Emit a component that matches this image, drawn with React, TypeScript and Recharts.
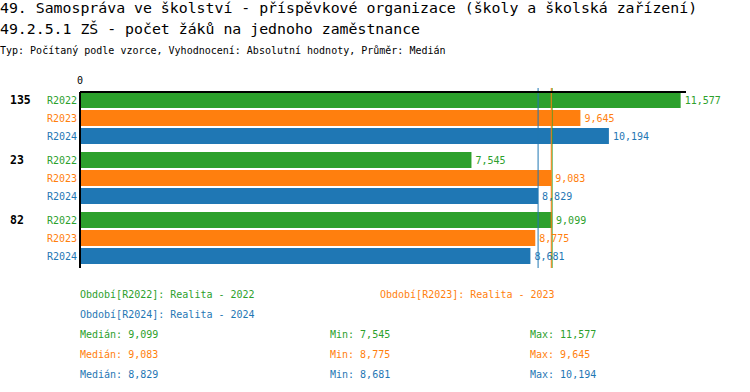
import React from 'react';
import { BarChart, Bar, XAxis, YAxis, ReferenceLine, LabelList } from 'recharts';

const groups = ['135', '23', '82'];
const periods = ['R2022', 'R2023', 'R2024'];
const r2022 = [11577, 7545, 9099];
const r2023 = [9645, 9083, 8775];
const r2024 = [10194, 8829, 8681];
const medians = [9099, 9083, 8829];
const mins = [7545, 8775, 8681];
const maxs = [11577, 9645, 10194];
const legendLabels = ['Období[R2022]: Realita - 2022', 'Období[R2023]: Realita - 2023', 'Období[R2024]: Realita - 2024'];
const title1 = '49. Samospráva ve školství - příspěvkové organizace (školy a školská zařízení)';
const title2 = '49.2.5.1 ZŠ - počet žáků na jednoho zaměstnance';
const subtitle = 'Typ: Počítaný podle vzorce, Vyhodnocení: Absolutní hodnoty, Průměr: Medián';

const COLORS = ['#2ca02c', '#ff7f0e', '#1f77b4'];
const FONT = '"DejaVu Sans Mono", monospace';
const keys = ['r2022', 'r2023', 'r2024'];

const data = groups.map((g, i) => ({ group: g, r2022: r2022[i], r2023: r2023[i], r2024: r2024[i] }));

const fmt = (v: number) => v.toLocaleString('en-US');

const YTick = (props: any) => {
  const { x, y, payload } = props;
  return (
    <g>
      <text x={x - 67} y={y - 18} dy="0.35em" fontSize={11.5} fontWeight="bold" fontFamily={FONT} fill="#000">
        {payload.value}
      </text>
      {periods.map((p, i) => (
        <text key={p} x={x} y={y + (i - 1) * 18} dy="0.35em" textAnchor="end" fontSize={10} fontFamily={FONT} fill={COLORS[i]}>
          {p}
        </text>
      ))}
    </g>
  );
};

const XTick = (props: any) => {
  const { x, y, payload } = props;
  return (
    <text x={x} y={y} textAnchor="middle" fontSize={10} fontFamily={FONT} fill="#000">
      {payload.value}
    </text>
  );
};

export default function App() {
  return (
    <div style={{ position: 'absolute', left: 0, top: 0, width: 750, height: 392, background: '#fff' }}>
      <BarChart
        width={750}
        height={392}
        data={data}
        layout="vertical"
        margin={{ top: 68, right: 64, bottom: 124, left: 0 }}
        barSize={16}
        barGap={2}
      >
        <XAxis
          type="number"
          orientation="top"
          domain={[0, 11680]}
          ticks={[0]}
          tickLine={false}
          tickSize={0}
          tickMargin={4}
          tick={<XTick />}
          axisLine={{ stroke: '#000', strokeWidth: 2, transform: 'translate(0,4)' }}
          height={20}
        />
        <YAxis
          type="category"
          dataKey="group"
          width={80}
          tickLine={false}
          tickSize={0}
          tickMargin={3}
          tick={<YTick />}
          axisLine={{ stroke: '#000', strokeWidth: 2, strokeDasharray: '0 4 1000' }}
        />
        {keys.map((k, i) => (
          <Bar key={k} dataKey={k} fill={COLORS[i]} isAnimationActive={false}>
            <LabelList
              dataKey={k}
              position="right"
              offset={4}
              formatter={(v: any) => fmt(Number(v))}
              fill={COLORS[i]}
              fontSize={10}
              fontFamily={FONT}
            />
          </Bar>
        ))}
        <ReferenceLine x={medians[2]} stroke={COLORS[2]} strokeWidth={1} />
        <ReferenceLine x={medians[0]} stroke={COLORS[0]} strokeWidth={1} />
        <ReferenceLine x={medians[1]} stroke={COLORS[1]} strokeWidth={1} />
      </BarChart>
      <svg width={750} height={392} style={{ position: 'absolute', left: 0, top: 0, pointerEvents: 'none' }}>
        <text x={0} y={12.5} fontSize={14.85} fontFamily={FONT} fill="#000">{title1}</text>
        <text x={0} y={34} fontSize={14.85} fontFamily={FONT} fill="#000">{title2}</text>
        <text x={0} y={54} fontSize={10} fontFamily={FONT} fill="#000">{subtitle}</text>
        <text x={80} y={298} fontSize={10} fontFamily={FONT} fill={COLORS[0]}>{legendLabels[0]}</text>
        <text x={380} y={298} fontSize={10} fontFamily={FONT} fill={COLORS[1]}>{legendLabels[1]}</text>
        <text x={80} y={318} fontSize={10} fontFamily={FONT} fill={COLORS[2]}>{legendLabels[2]}</text>
        {periods.map((p, i) => (
          <g key={p}>
            <text x={80} y={338 + i * 20} fontSize={10} fontFamily={FONT} fill={COLORS[i]}>{'Medián: ' + fmt(medians[i])}</text>
            <text x={330} y={338 + i * 20} fontSize={10} fontFamily={FONT} fill={COLORS[i]}>{'Min: ' + fmt(mins[i])}</text>
            <text x={530} y={338 + i * 20} fontSize={10} fontFamily={FONT} fill={COLORS[i]}>{'Max: ' + fmt(maxs[i])}</text>
          </g>
        ))}
      </svg>
    </div>
  );
}
